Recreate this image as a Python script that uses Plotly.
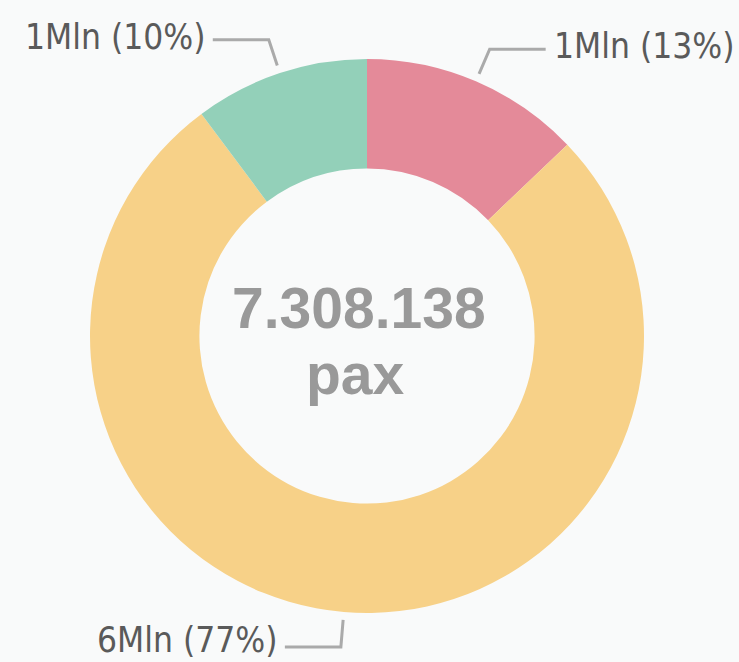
import math
import plotly.graph_objects as go

# ---- data ----
labels = ["Rosso", "Giallo", "Verde"]
values = [940000, 5623138, 745000]
slice_labels = ["1Mln (13%)", "6Mln (77%)", "1Mln (10%)"]
colors = ["#e48a99", "#f7d188", "#93d0b9"]
center_total = "7.308.138"
center_unit = "pax"

W, H = 739, 662
CX, CY, R = 367, 336, 277
BG = "#f9fafa"

def px(x):
    return x / W

def py(y):
    return 1 - y / H

fig = go.Figure()
fig.add_trace(go.Pie(
    labels=labels, values=values, hole=0.605, sort=False, direction="clockwise",
    rotation=0, marker=dict(colors=colors, line=dict(width=0)),
    textinfo="none", showlegend=False, hoverinfo="label+value+percent",
    domain=dict(x=[px(CX - R), px(CX + R)], y=[py(CY + R), py(CY - R)]),
))

total = sum(values)
cum = 0
shapes = []
annotations = []
for v, lab in zip(values, slice_labels):
    mid = (cum + v / 2) / total * 2 * math.pi
    cum += v
    s, c = math.sin(mid), math.cos(mid)
    x0, y0 = CX + 285 * s, CY - 285 * c
    x1, y1 = CX + 312 * s, CY - 312 * c
    side = 1 if s >= 0 else -1
    x2 = x1 + side * 56
    shapes.append(dict(
        type="path", xref="paper", yref="paper",
        path=f"M {px(x0)},{py(y0)} L {px(x1)},{py(y1)} L {px(x2)},{py(y1)}",
        line=dict(color="#aaaaaa", width=3),
    ))
    ty = min(y1 - 3, H - 22)
    annotations.append(dict(
        x=px(x2 + side * 6), y=py(ty), xref="paper", yref="paper",
        text=lab, showarrow=False, xanchor="left" if side > 0 else "right",
        yanchor="middle",
        font=dict(family="DejaVu Sans Condensed", size=35, color="#5a5a5a"),
    ))

annotations.append(dict(
    x=px(CX - 8), y=py(308), xref="paper", yref="paper", text=f"<b>{center_total}</b>",
    showarrow=False, xanchor="center", yanchor="middle",
    font=dict(family="Liberation Sans", size=57, color="#999999"),
))
annotations.append(dict(
    x=px(CX - 12), y=py(374), xref="paper", yref="paper", text=f"<b>{center_unit}</b>",
    showarrow=False, xanchor="center", yanchor="middle",
    font=dict(family="Liberation Sans", size=57, color="#999999"),
))

fig.update_layout(
    width=W, height=H, margin=dict(l=0, r=0, t=0, b=0),
    paper_bgcolor=BG, plot_bgcolor=BG,
    shapes=shapes, annotations=annotations,
)
fig.write_html(
    "out.html",
    config={"displayModeBar": False},
    post_script="document.body.style.margin='0';document.body.style.background='%s';" % BG,
)
